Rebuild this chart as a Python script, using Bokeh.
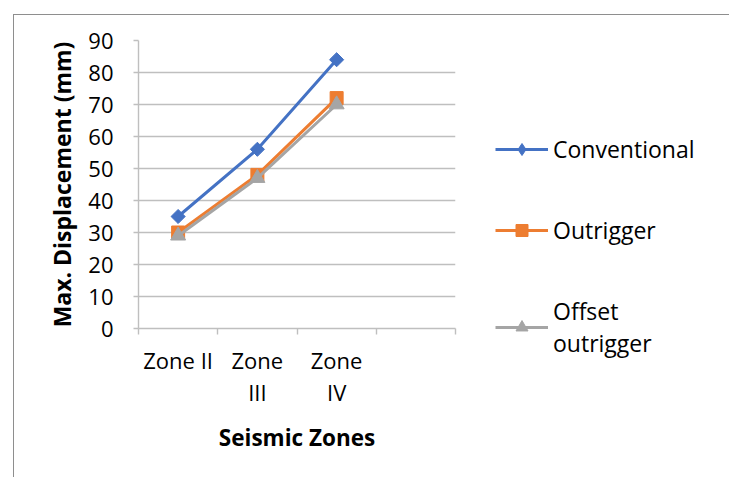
from bokeh.plotting import figure
from bokeh.models import FixedTicker, Legend, LegendItem, Range1d
from bokeh.embed import file_html
from bokeh.resources import INLINE
import numpy as np

# Maximum displacement (mm) per seismic zone
zones = ["Zone II", "Zone III", "Zone IV"]
zone_labels = ["Zone II", "Zone\nIII", "Zone\nIV"]
conventional = [35, 56, 84]
outrigger = [30, 48, 72]
offset_outrigger = [29, 47, 70]
series_names = ["Conventional", "Outrigger", "Offset\noutrigger"]
y_ticks = [0, 10, 20, 30, 40, 50, 60, 70, 80, 90]
n_slots = 4  # category slots on the axis (last one left empty)

FONT = "Open Sans"
GRID = "#BFBFBF"
EDGE = "1px solid #8E8E8E"
BLUE, ORANGE, GREY = "#4472C4", "#ED7D31", "#A5A5A5"

x = [i + 0.5 for i in range(len(zones))]
series = [conventional, outrigger, offset_outrigger]

p = figure(frame_width=317, frame_height=288,
           output_backend="svg", toolbar_location=None,
           x_range=Range1d(0, n_slots), y_range=Range1d(0, 90),
           min_border_left=124, min_border_right=272,
           min_border_top=25, min_border_bottom=149)
p.outline_line_color = None
p.background_fill_color = "white"
p.border_fill_color = "white"
# chart area border (bottom edge runs past the page)
p.margin = (14, 0, 0, 13)
p.styles = {"border-top": EDGE, "border-left": EDGE, "border-right": EDGE}

# x axis: category labels centred in slots, tick marks on slot boundaries
p.xaxis.ticker = FixedTicker(ticks=x, minor_ticks=list(range(n_slots + 1)))
p.xaxis.major_label_overrides = {xi: lab for xi, lab in zip(x, zone_labels)}
p.xaxis.major_tick_out = 0
p.xaxis.major_tick_in = 0
p.xaxis.minor_tick_out = 6
p.xaxis.minor_tick_in = 0
p.xaxis.minor_tick_line_color = GRID
p.xaxis.minor_tick_line_width = 1.4
p.xaxis.axis_line_color = GRID
p.xaxis.axis_line_width = 1.4
p.xaxis.major_label_text_font = FONT
p.xaxis.major_label_text_font_size = "22px"
p.xaxis.major_label_text_color = "black"
p.xaxis.major_label_text_line_height = 1.07
p.xaxis.major_label_standoff = 10
p.xaxis.axis_label = "Seismic Zones"
p.xaxis.axis_label_text_font = FONT
p.xaxis.axis_label_text_font_size = "22.5px"
p.xaxis.axis_label_text_font_style = "bold"
p.xaxis.axis_label_text_color = "black"
p.xaxis.axis_label_standoff = 12

# y axis
p.yaxis.ticker = FixedTicker(ticks=y_ticks, minor_ticks=[])
p.yaxis.major_tick_out = 5
p.yaxis.major_tick_in = 0
p.yaxis.major_tick_line_color = GRID
p.yaxis.major_tick_line_width = 1.4
p.yaxis.axis_line_color = GRID
p.yaxis.axis_line_width = 1.4
p.yaxis.major_label_text_font = FONT
p.yaxis.major_label_text_font_size = "22px"
p.yaxis.major_label_text_color = "black"
p.yaxis.major_label_standoff = 20
p.yaxis.axis_label = "Max. Displacement (mm)"
p.yaxis.axis_label_text_font = FONT
p.yaxis.axis_label_text_font_size = "23px"
p.yaxis.axis_label_text_font_style = "bold"
p.yaxis.axis_label_text_color = "black"
p.yaxis.axis_label_standoff = 7

p.xgrid.grid_line_color = None
p.ygrid.grid_line_color = GRID
p.ygrid.grid_line_width = 1.4
p.ygrid.ticker = FixedTicker(ticks=y_ticks)

# series lines and markers
colors = [BLUE, ORANGE, GREY]
legend_markers = ["diamond", "square", "triangle"]
plot_markers = [dict(marker="square", angle=np.pi / 4, size=10),
                dict(marker="square", size=13),
                dict(marker="triangle", size=15)]
items = []
for name, vals, color, pm, lm in zip(series_names, series, colors,
                                     plot_markers, legend_markers):
    ln = p.line(x, vals, line_color=color, line_width=3)
    p.scatter(x, vals, fill_color=color, line_color=color, **pm)
    # hidden marker renderer that supplies the legend key symbol
    key = p.scatter(x, vals, marker=lm, fill_color=color, line_color=color,
                    visible=False)
    items.append(LegendItem(label=name, renderers=[ln, key]))

legend = Legend(items=items, location=(40, -31))
legend.label_text_font = FONT
legend.label_text_font_size = "23px"
legend.label_text_color = "black"
legend.glyph_width = 53
legend.glyph_height = 30
legend.label_standoff = 5
legend.spacing = 49
legend.padding = 0
legend.margin = 0
legend.border_line_color = None
legend.background_fill_alpha = 0
p.add_layout(legend, "right")

open("out.html", "w").write(file_html(p, INLINE))
